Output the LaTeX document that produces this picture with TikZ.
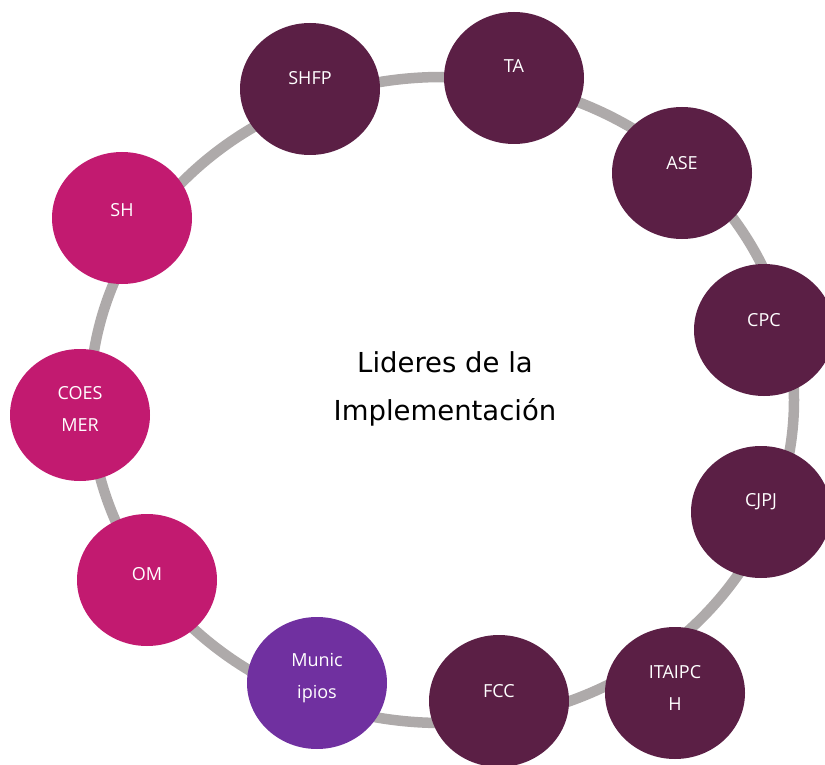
\documentclass[tikz,border=0pt]{standalone}
\usepackage{fontspec}
\setmainfont{Open Sans}
\newfontfamily\centerfont{DejaVu Sans}
\usetikzlibrary{shapes.geometric}
\definecolor{ringgray}{HTML}{AEAAAA}
\definecolor{darkplum}{HTML}{5B1F45}
\definecolor{magentaf}{HTML}{C21A70}
\definecolor{purplef}{HTML}{7030A0}
\tikzset{
  disc/.style={ellipse, minimum width=140pt, minimum height=132pt, inner sep=0pt, draw=none},
  plum/.style={disc, fill=darkplum},
  mag/.style={disc, fill=magentaf},
  purp/.style={disc, fill=purplef},
  lbl/.style={text=white, font=\fontsize{18}{32}\selectfont, align=center, inner sep=0pt},
  ring/.style={draw=ringgray, line width=10.5pt}
}
\begin{document}
\begin{tikzpicture}[x=1pt,y=-1pt]
\useasboundingbox (0,0) rectangle (825,765);
\draw[ring] (442,400) ellipse [x radius=352, y radius=323];
% nodes
\node[plum] (shfp) at (310,89) {};
\node[plum] (ta) at (514,78) {};
\node[plum] (ase) at (682,173) {};
\node[plum] (cpc) at (764,330) {};
\node[plum] (cjpj) at (761,512) {};
\node[plum] (itaipch) at (675,693) {};
\node[plum] (fcc) at (499,701) {};
\node[purp] (mun) at (317,683) {};
\node[mag] (om) at (147,580) {};
\node[mag] (coes) at (80,415) {};
\node[mag] (sh) at (122,218) {};
% labels
\node[lbl] (tshfp) at (310,78) {SHFP};
\node[lbl] (tta) at (514,66) {TA};
\node[lbl] (tase) at (682,163) {ASE};
\node[lbl] (tcpc) at (764,320) {CPC};
\node[lbl] (tcjpj) at (761,502) {CJPJ};
\node[lbl] (titaipch) at (675,688) {ITAIPC\\H};
\node[lbl] (tfcc) at (499,691) {FCC};
\node[lbl] (tmun) at (317,678) {Munic\\ipios};
\node[lbl] (tom) at (147,574) {OM};
\node[lbl] (tcoes) at (80,409) {COES\\MER};
\node[lbl] (tsh) at (122,210) {SH};
\node[align=center, inner sep=0pt, font=\centerfont\fontsize{27.5}{48}\selectfont] (title) at (445,389) {Lideres de la\\Implementación};
\end{tikzpicture}
\end{document}
